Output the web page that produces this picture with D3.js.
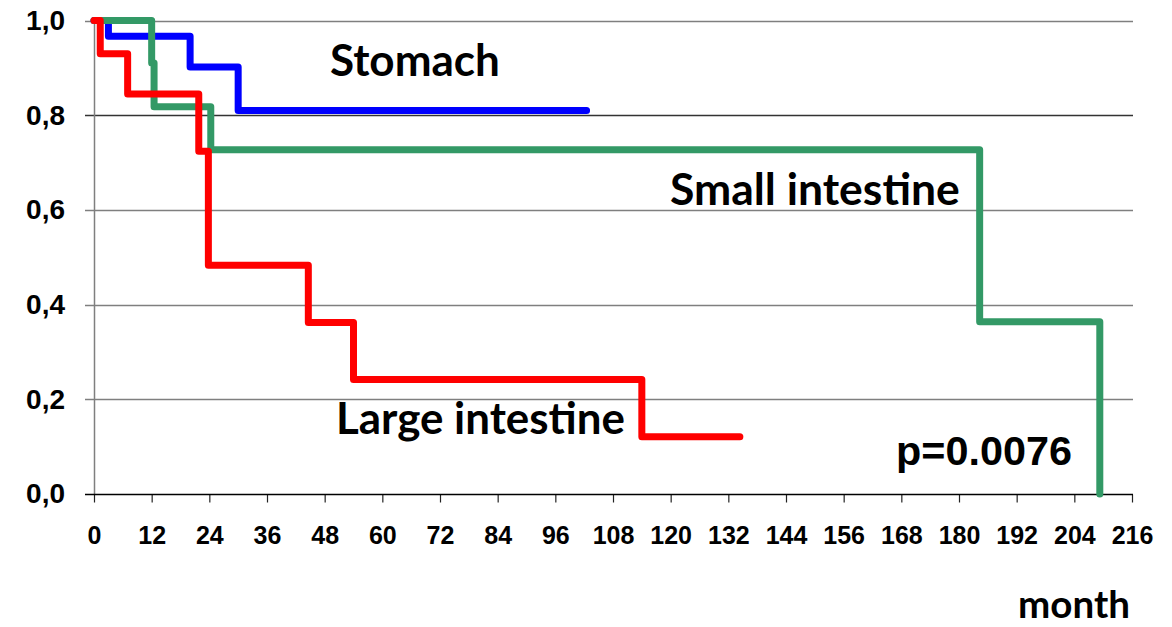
<!DOCTYPE html>
<html>
<head>
<meta charset="utf-8">
<script src="https://cdn.jsdelivr.net/npm/d3@7"></script>
<style>
  html, body { margin: 0; padding: 0; background: #fff; }
  svg { display: block; }
</style>
</head>
<body>
<svg id="chart" width="1172" height="627"></svg>
<script>
// ---- data ----
const stomachMonths = [0, 3, 20, 30, 102.5];
const stomachSurv = [1, 0.967, 0.902, 0.81, 0.81];

const smallMonths = [0, 12, 12.5, 24.3, 184.3, 209.3];
const smallSurv = [1, 0.91, 0.818, 0.727, 0.364, 0];

const largeMonths = [0, 1.3, 7, 21.8, 23.8, 44.6, 54, 114, 134.4];
const largeSurv = [1, 0.93, 0.845, 0.724, 0.483, 0.362, 0.242, 0.121, 0.121];

const xTicks = d3.range(0, 217, 12);
const yTicks = [0, 0.2, 0.4, 0.6, 0.8, 1.0];
const yTickLabels = ['0,0', '0,2', '0,4', '0,6', '0,8', '1,0'];

// ---- layout ----
const cfg = {
	left: 94,
	right: 1132,
	top: 20.5,
	bottom: 494,
	lineWidth: 7,
	tickFont: 'Liberation Sans, Arial, sans-serif',
	labelFont: 'Lato, Open Sans, sans-serif',
};

const svg = d3.select('#chart');
const x = d3.scaleLinear().domain([0, 216]).range([cfg.left, cfg.right]);
const y = d3.scaleLinear().domain([0, 1]).range([cfg.bottom, cfg.top]);

// horizontal grid lines
svg.append('g')
	.selectAll('line')
	.data(yTicks.filter((d) => d > 0))
	.join('line')
	.attr('x1', cfg.left - 9)
	.attr('x2', cfg.right + 1)
	.attr('y1', (d) => Math.round(y(d)) + 0.5)
	.attr('y2', (d) => Math.round(y(d)) + 0.5)
	.attr('stroke', (d) => (d === 0.8 ? '#333' : '#7f7f7f'))
	.attr('stroke-width', 1.5);

// y axis line
svg.append('line')
	.attr('x1', cfg.left + 0.5)
	.attr('x2', cfg.left + 0.5)
	.attr('y1', y(1))
	.attr('y2', y(0))
	.attr('stroke', '#7f7f7f')
	.attr('stroke-width', 1.5);

// x axis through d3 axis
const xAxis = svg.append('g')
	.attr('transform', `translate(0,${Math.round(y(0)) + 0.5})`)
	.call(d3.axisBottom(x).tickValues(xTicks).tickSize(8).tickSizeOuter(0).tickPadding(24));
xAxis.select('.domain').remove();
xAxis.append('line')
	.attr('x1', cfg.left - 9)
	.attr('x2', cfg.right + 1)
	.attr('stroke', '#000')
	.attr('stroke-width', 1.5);
xAxis.selectAll('.tick line').attr('stroke', '#222').attr('stroke-width', 1.2);
xAxis.selectAll('.tick text')
	.style('font-family', cfg.tickFont)
	.style('font-weight', 'bold')
	.style('font-size', '25px')
	.attr('fill', '#000');

// y axis labels
const yAxis = svg.append('g')
	.attr('transform', `translate(${cfg.left},0)`)
	.call(d3.axisLeft(y).tickValues(yTicks).tickSize(0).tickPadding(29)
		.tickFormat((d, i) => yTickLabels[i]));
yAxis.select('.domain').remove();
yAxis.selectAll('.tick text')
	.style('font-family', cfg.tickFont)
	.style('font-weight', 'bold')
	.style('font-size', '28px')
	.attr('fill', '#000');

// survival step curves
const series = [
	{ months: stomachMonths, surv: stomachSurv, color: '#0000ff' },
	{ months: smallMonths, surv: smallSurv, color: '#339966' },
	{ months: largeMonths, surv: largeSurv, color: '#ff0000' },
];

const line = d3.line()
	.x((d) => x(d[0]))
	.y((d) => y(d[1]))
	.curve(d3.curveStepAfter);

series.forEach((s) => {
	svg.append('path')
		.datum(d3.zip(s.months, s.surv))
		.attr('fill', 'none')
		.attr('stroke', s.color)
		.attr('stroke-width', cfg.lineWidth)
		.attr('stroke-linejoin', 'round')
		.attr('stroke-linecap', 'round')
		.attr('d', line);
});

// annotations: [text, left x, baseline y, target width, font]
const notes = [
	['Stomach', 330, 76, 170, cfg.labelFont],
	['Small intestine', 670, 205, 290, cfg.labelFont],
	['Large intestine', 336, 434, 289, cfg.labelFont],
	['p=0.0076', 896, 465, 176, cfg.tickFont],
	['month', 1018, 618, 112, cfg.labelFont],
];

notes.forEach(([txt, tx, ty, w, font]) => {
	const t = svg.append('text')
		.attr('x', tx)
		.attr('y', ty)
		.style('font-family', font)
		.style('font-weight', 'bold')
		.style('font-size', '40px')
		.attr('fill', '#000')
		.text(txt);
	const bb = t.node().getBBox();
	t.style('font-size', `${(40 * w) / bb.width}px`);
});
</script>
</body>
</html>
